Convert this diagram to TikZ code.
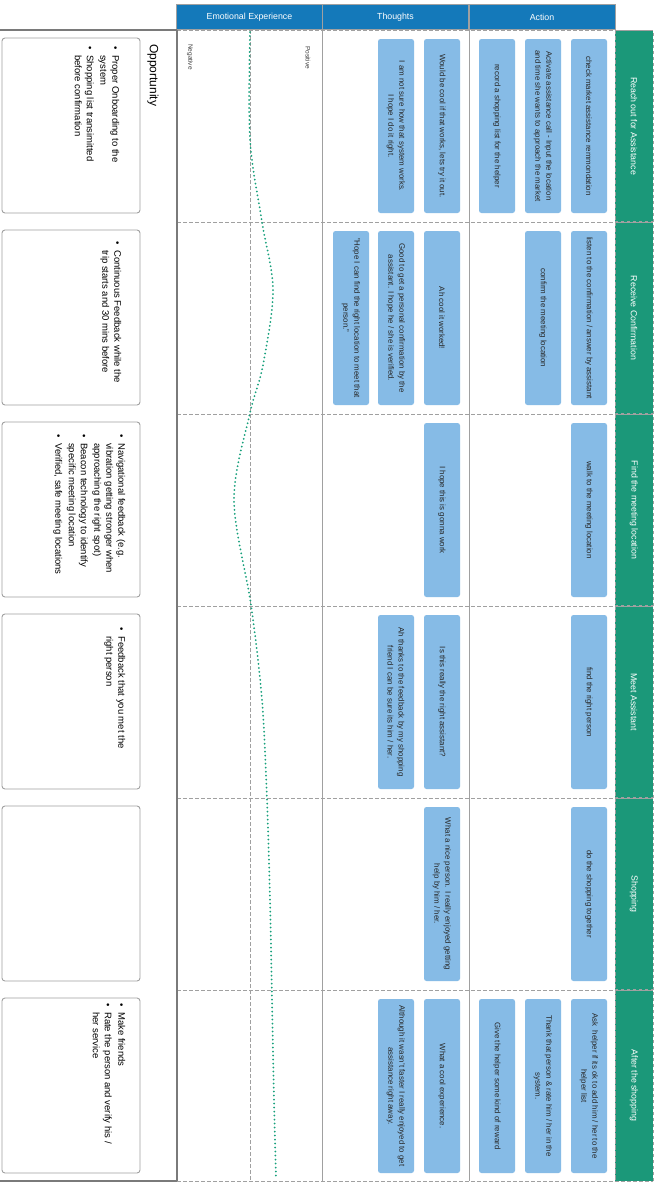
\documentclass[tikz,border=0pt]{standalone}
\usepackage{fontspec}
\setmainfont{Liberation Sans}
\definecolor{hdrblue}{HTML}{1479BA}
\definecolor{cardblue}{HTML}{86BBE6}
\definecolor{stagegreen}{HTML}{1B9879}
\definecolor{curvegreen}{HTML}{17A07C}
\definecolor{gridgrey}{HTML}{A0A0A0}
\definecolor{darkgrey}{HTML}{7A7A7A}
% bulleted list laid out as a two-column table: bullet | wrapped lines
\newenvironment{bulletlist}{\begin{tabular}{@{}p{9pt}@{}l@{}}}{\end{tabular}}
\newcommand\bul{\textbullet}
\begin{document}
\begin{tikzpicture}[x=1pt,y=-1pt,
  card/.style={rotate=-90, fill=cardblue, rounded corners=2.5pt,
    minimum width=174pt, minimum height=36pt, inner sep=2pt, align=center,
    font=\fontsize{7.9}{11}\selectfont, text=black!85},
  header/.style={fill=hdrblue, draw=gridgrey, line width=0.8pt,
    minimum width=146pt, minimum height=25pt, inner sep=0pt,
    text=white, font=\fontsize{8.8}{10}\selectfont},
  stage/.style={rotate=-90, fill=stagegreen, draw=gridgrey, dashed, line width=0.6pt,
    minimum width=191pt, minimum height=38pt, inner sep=0pt,
    text=white, font=\fontsize{8.8}{10}\selectfont},
  oppbox/.style={draw=gridgrey, line width=0.9pt, rounded corners=3pt, fill=white,
    minimum width=138pt, minimum height=175pt, inner sep=0pt},
  opptext/.style={rotate=-90, anchor=north west, inner sep=0pt,
    font=\fontsize{9.5}{12}\selectfont},
  emolabel/.style={rotate=-90, anchor=west, inner sep=0pt, text=black!75,
    font=\fontsize{6.5}{8}\selectfont},
  gridsolid/.style={draw=gridgrey, line width=1pt},
  griddash/.style={draw=gridgrey, line width=0.8pt, dash pattern=on 3.5pt off 2.5pt},
  borderline/.style={draw=darkgrey, line width=1.5pt},
  mood/.style={draw=curvegreen, line width=2pt, line cap=round, dash pattern=on 0pt off 4pt}
]
\useasboundingbox (0,0) rectangle (654,1184);
\fill[white] (0,0) rectangle (654,1184);

% column headers
\node[header] (hemo) at (249.5,17) {Emotional Experience};
\node[header] (hthought) at (395.5,17) {Thoughts};
\node[header] (haction) at (542,17) {Action};

% stage column
\node[stage] (s1) at (634,126) {Reach out for Assistance};
\node[stage] (s2) at (634,318) {Receive Confirmation};
\node[stage] (s3) at (634,510) {Find the meeting location};
\node[stage] (s4) at (634,702) {Meet Assistant};
\node[stage] (s5) at (634,894) {Shopping};
\node[stage] (s6) at (634,1085.5) {After the shopping};

% grid
\draw[gridsolid] (322,30) -- (322,1181);
\draw[gridsolid] (469,30) -- (469,1181);
\draw[griddash] (250,30) -- (250,1181);
\foreach \yy in {30,222,414,606,798,990,1181}
  \draw[griddash] (177,\yy) -- (653,\yy);
\draw[griddash] (615,30) -- (615,1181);
\draw[borderline] (0,30) -- (177,30);
\draw[borderline] (0,1181) -- (177,1181);
\draw[borderline] (177,30) -- (177,1181);

% emotional scale
\node[emolabel] (neg) at (190,44) {Negative};
\node[emolabel] (pos) at (308,46) {Positive};
\draw[mood] plot[smooth, tension=0.55] coordinates {
  (250,32) (250,140) (262,222) (273,290) (263,365) (250,413) (234,500)
  (251,605) (262,700) (267,800) (270,900) (272,1000) (274,1100) (276,1178)};

% opportunity column
\node[rotate=-90, anchor=west, inner sep=0pt, font=\fontsize{12}{14}\selectfont]
  (opptitle) at (153,44) {Opportunity};
\node[oppbox] (b1) at (71,125.5) {};
\node[oppbox] (b2) at (71,317.5) {};
\node[oppbox] (b3) at (71,509.5) {};
\node[oppbox] (b4) at (71,701.5) {};
\node[oppbox] (b5) at (71,893.5) {};
\node[oppbox] (b6) at (71,1085.5) {};
\node[opptext] (o1) at (121,46) {\begin{bulletlist}
  \bul & Proper Onboarding to the\\ & system\\[1.5pt]
  \bul & Shopping list transimitted\\ & before confirmation\end{bulletlist}};
\node[opptext] (o2) at (123,241) {\begin{bulletlist}
  \bul & Continuous Feedback while the\\ & trip starts and 30 mins before\end{bulletlist}};
\node[opptext] (o3) at (127,434) {\begin{bulletlist}
  \bul & Navigational feedback (e.g.\\ & vibration getting stronger when\\ & approaching the right spot)\\[1.5pt]
  \bul & Beacon technology to identify\\ & specific meeting location\\[1.5pt]
  \bul & Verified, safe meeting locations\end{bulletlist}};
\node[opptext] (o4) at (127,627) {\begin{bulletlist}
  \bul & Feedback that you met the\\ & right person\end{bulletlist}};
\node[opptext] (o6) at (127,1003) {\begin{bulletlist}
  \bul & Make friends\\[1.5pt]
  \bul & Rate the person and verify his /\\ & her service\end{bulletlist}};

% stage 1
\node[card] (a11) at (589,126) {check market assistance remmondation};
\node[card] (a12) at (543,126) {Activate assistance call - Input the location\\and time she wants to approach the market};
\node[card] (a13) at (497,126) {record a shopping list for the helper};
\node[card] (t11) at (442,126) {Would be cool if that works, lets try it out.};
\node[card] (t12) at (396,126) {I am not sure how that system works.\\I hope I do it right.};
% stage 2
\node[card] (a21) at (589,318) {listen to the confirmation / answer by assistant};
\node[card] (a22) at (543,318) {confirm the meeting location};
\node[card] (t21) at (442,318) {Ah cool it worked!};
\node[card] (t22) at (396,318) {Good to get a personal confirmation by the\\assistant. I hope he / she is verified.};
\node[card] (t23) at (351,318) {"Hope I can find the right location to meet that\\person."};
% stage 3
\node[card] (a31) at (589,510) {walk to the meeting location};
\node[card] (t31) at (442,510) {I hope this is gonna work};
% stage 4
\node[card] (a41) at (589,702) {find the right person};
\node[card] (t41) at (442,702) {Is this really the right assistant?};
\node[card] (t42) at (396,702) {Ah thanks to the feedback by my shopping\\friend I can be sure its him / her.};
% stage 5
\node[card] (a51) at (589,894) {do the shopping together};
\node[card] (t51) at (442,894) {What a nice person. I really enjoyed getting\\help by him / her.};
% stage 6
\node[card] (a61) at (589,1086) {Ask~ helper if its ok to add him / her to the\\helper list};
\node[card] (a62) at (543,1086) {Thank that person \& rate him / her in the\\system.};
\node[card] (a63) at (497,1086) {Give the helper some kind of reward};
\node[card] (t61) at (442,1086) {What a cool experience.};
\node[card] (t62) at (396,1086) {Although it wasn't faster I really enjoyed to get\\assistance right away.};
\end{tikzpicture}
\end{document}
